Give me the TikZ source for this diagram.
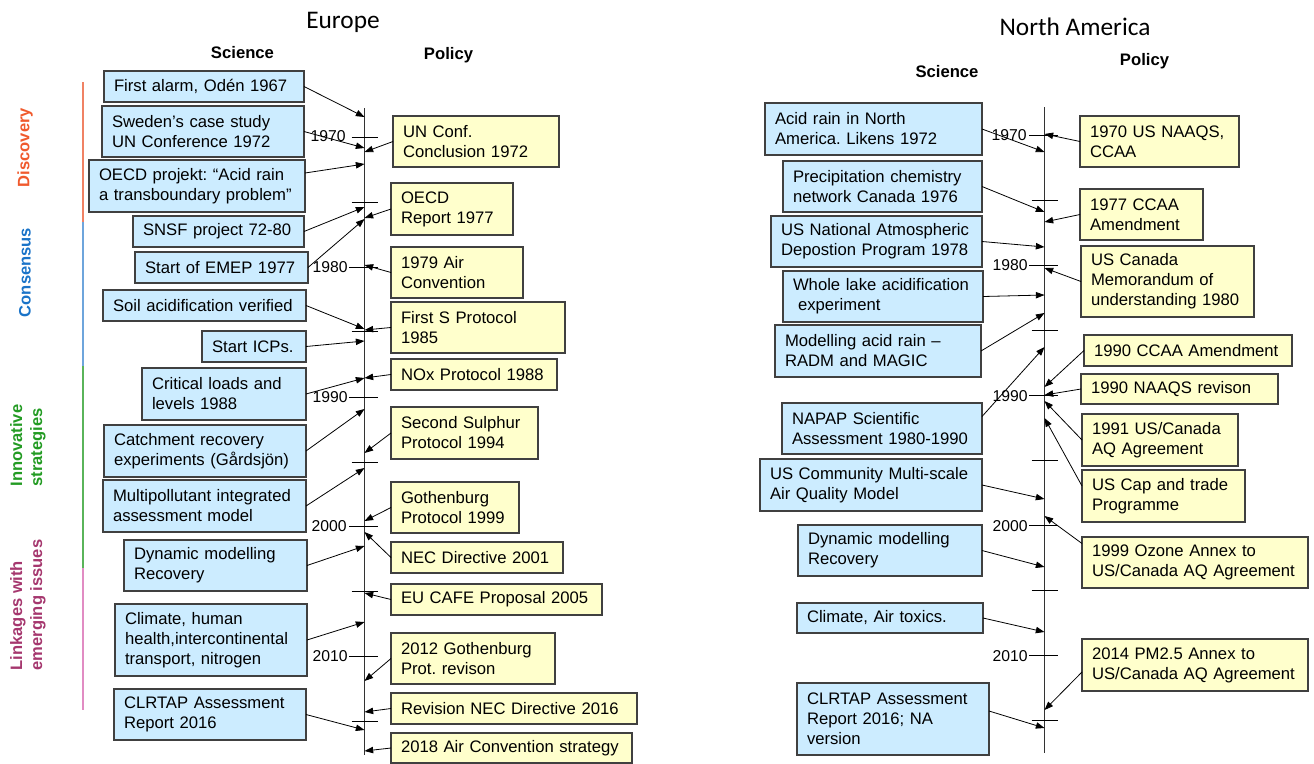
\documentclass[tikz,border=0pt]{standalone}
\usepackage{fontspec}
\setmainfont{Liberation Sans}
\newfontfamily\titlefont{Carlito}
\usepackage{xcolor}
\usetikzlibrary{arrows.meta,calc}

\newdimen\px \px=0.75pt

\definecolor{sciblue}{RGB}{204,236,255}
\definecolor{polyellow}{RGB}{255,255,204}
\definecolor{boxline}{RGB}{64,64,64}
\definecolor{discovery}{RGB}{240,90,45}
\definecolor{discoveryline}{RGB}{240,130,100}
\definecolor{consensus}{RGB}{25,115,200}
\definecolor{consensusline}{RGB}{110,165,220}
\definecolor{innovative}{RGB}{35,155,35}
\definecolor{innovativeline}{RGB}{90,180,90}
\definecolor{linkages}{RGB}{165,55,110}
\definecolor{linkagesline}{RGB}{225,140,195}

\tikzset{
  sci/.style={draw=boxline, fill=sciblue, line width=0.9pt, anchor=north west,
    align=left, inner xsep=10\px, inner ysep=1pt, outer sep=0pt,
    font=\fontsize{12.5}{15}\selectfont},
  pol/.style={sci, fill=polyellow},
  link/.style={line width=0.6pt, -{Triangle[length=6.5pt,width=4.8pt]}},
  yeartick/.style={line width=0.6pt},
  year/.style={anchor=east, inner sep=0pt, font=\fontsize{11.8}{14}\selectfont},
  colhead/.style={anchor=base, font=\bfseries\fontsize{12.5}{14}\selectfont},
  phase/.style={rotate=90, align=left, inner sep=0pt, font=\bfseries\fontsize{12.4}{15}\selectfont},
}

\begin{document}
\frenchspacing
\begin{tikzpicture}[x=0.75pt,y=0.75pt,yscale=-1,xscale=1]
\useasboundingbox (0,0) rectangle (1314,764);

% Titles and column heads
\node[anchor=base, font=\titlefont\fontsize{19}{22}\selectfont] (eutitle) at (343,28) {Europe};
\node[anchor=base, font=\titlefont\fontsize{19}{22}\selectfont] (natitle) at (1075,35) {North America};
\node[colhead] (euscience) at (242.5,58) {Science};
\node[colhead] (eupolicy) at (448.5,59) {Policy};
\node[colhead] (nascience) at (947,77) {Science};
\node[colhead] (napolicy) at (1144.5,65) {Policy};

% Phases
\draw[discoveryline, line width=0.8pt] (83,82) -- (83,222);
\draw[consensusline, line width=0.8pt] (83,222) -- (83,366);
\draw[innovativeline, line width=0.8pt] (83,366) -- (83,568);
\draw[linkagesline, line width=0.8pt] (83,568) -- (83,710);
\node[phase, text=discovery] (discovery) at (25,147.5) {Discovery};
\node[phase, text=consensus] (consensus) at (25,272.5) {Consensus};
\node[phase, text=innovative] (innovative) at (28,445.5) {Innovative\\strategies};
\node[phase, text=linkages] (linkages) at (28,605) {Linkages with\\emerging issues};

%Time axis: Europe
\coordinate (eu) at (364.5,108);
\coordinate (eubottom) at (364.5,755);
\draw[black!80, line width=0.8pt] (eu) -- (eubottom);
\draw[yeartick] (351.5,137) -- (377.5,137);
\draw[yeartick] (351.5,202) -- (377.5,202);
\draw[yeartick] (349,267) -- (377.5,267);
\draw[yeartick] (351.5,331) -- (377.5,331);
\draw[yeartick] (349,397) -- (377.5,397);
\draw[yeartick] (351.5,462) -- (377.5,462);
\draw[yeartick] (349,526) -- (377.5,526);
\draw[yeartick] (351.5,591) -- (377.5,591);
\draw[yeartick] (349,656) -- (377.5,656);
\draw[yeartick] (351.5,721) -- (377.5,721);
\node[year] (eu1970) at (346,136) {1970};
\node[year] (eu1980) at (348,267) {1980};
\node[year] (eu1990) at (348,397) {1990};
\node[year] (eu2000) at (347,526) {2000};
\node[year] (eu2010) at (348,656) {2010};

%Time axis: North America
\coordinate (na) at (1044.5,107);
\coordinate (nabottom) at (1044.5,753);
\draw[black!80, line width=0.8pt] (na) -- (nabottom);
\draw[yeartick] (1029,135) -- (1057.5,135);
\draw[yeartick] (1031.5,200) -- (1057.5,200);
\draw[yeartick] (1029,265) -- (1057.5,265);
\draw[yeartick] (1031.5,330) -- (1057.5,330);
\draw[yeartick] (1029,395) -- (1057.5,395);
\draw[yeartick] (1031.5,460) -- (1057.5,460);
\draw[yeartick] (1029,525) -- (1057.5,525);
\draw[yeartick] (1031.5,590) -- (1057.5,590);
\draw[yeartick] (1029,655) -- (1057.5,655);
\draw[yeartick] (1031.5,720) -- (1057.5,720);
\node[year] (na1970) at (1027,135) {1970};
\node[year] (na1980) at (1028,265) {1980};
\node[year] (na1990) at (1028,396) {1990};
\node[year] (na2000) at (1028,526) {2000};
\node[year] (na2010) at (1028,656) {2010};

% Europe: science
\node[sci, text width=180\px, minimum height=31\px] (alarm) at (104,71) {First alarm, Odén 1967};
\node[sci, text width=182\px, minimum height=51\px] (sweden) at (102,106) {Sweden’s case study\\UN Conference 1972};
\node[sci, text width=196\px, minimum height=52\px] (oecdp) at (89,160) {OECD projekt: “Acid rain\\a transboundary problem”};
\node[sci, text width=151\px, minimum height=31\px] (snsf) at (133,216) {SNSF project 72-80};
\node[sci, text width=153\px, minimum height=31\px] (emep) at (135,252) {Start of EMEP 1977};
\node[sci, text width=183\px, minimum height=31\px] (soil) at (103,290) {Soil acidification verified};
\node[sci, text width=84\px, minimum height=31\px] (icps) at (202,331) {Start ICPs.};
\node[sci, text width=144\px, minimum height=52\px] (critical) at (142,368) {Critical loads and\\levels 1988};
\node[sci, text width=182\px, minimum height=52\px] (catchment) at (104,425) {Catchment recovery\\experiments (Gårdsjön)};
\node[sci, text width=183\px, minimum height=52\px] (multi) at (103,480) {Multipollutant integrated\\assessment model};
\node[sci, text width=163\px, minimum height=51\px] (dynamic) at (124,540) {Dynamic modelling\\Recovery};
\node[sci, text width=172\px, minimum height=72\px] (climate) at (115,604) {Climate, human\\health,intercontinental\\transport, nitrogen};
\node[sci, text width=172\px, minimum height=51\px] (clrtap) at (114,689) {CLRTAP Assessment\\Report 2016};

% Europe: policy
\node[pol, text width=146\px, minimum height=51\px] (unconf) at (393,116) {UN Conf.\\Conclusion 1972};
\node[pol, text width=102\px, minimum height=52\px] (oecdrep) at (391,183) {OECD\\Report 1977};
\node[pol, text width=112\px, minimum height=51\px] (airconv) at (391,247) {1979 Air\\Convention};
\node[pol, text width=154\px, minimum height=51\px] (firsts) at (391,302) {First S Protocol\\1985};
\node[pol, text width=146\px, minimum height=31\px] (nox) at (391,359) {NOx Protocol 1988};
\node[pol, text width=127\px, minimum height=52\px] (seconds) at (391,407) {Second Sulphur\\Protocol 1994};
\node[pol, text width=108\px, minimum height=51\px] (gothenburg) at (391,482) {Gothenburg\\Protocol 1999};
\node[pol, text width=152\px, minimum height=31\px] (nec) at (391,542) {NEC Directive 2001};
\node[pol, text width=191\px, minimum height=31\px] (cafe) at (391,584) {EU CAFE Proposal 2005};
\node[pol, text width=144\px, minimum height=51\px] (gothrev) at (391,633) {2012 Gothenburg\\Prot. revison};
\node[pol, text width=226\px, minimum height=31\px] (necrev) at (391,693) {Revision NEC Directive 2016};
\node[pol, text width=221\px, minimum height=30\px] (strategy) at (391,733) {2018 Air Convention strategy};

% North America: science
\node[sci, text width=197\px, minimum height=52\px] (likens) at (765,103) {Acid rain in North\\America. Likens 1972};
\node[sci, text width=179\px, minimum height=51\px] (precip) at (783,161) {Precipitation chemistry\\network Canada 1976};
\node[sci, text width=191\px, minimum height=51\px] (nadp) at (771,216) {US National Atmospheric\\Depostion Program 1978};
\node[sci, text width=180\px, minimum height=51\px] (lake) at (783,271) {Whole lake acidification\\\hspace*{5\px}experiment};
\node[sci, text width=186\px, minimum height=52\px] (radm) at (775,325) {Modelling acid rain –\\RADM and MAGIC};
\node[sci, text width=180\px, minimum height=51\px] (napap) at (782,403) {NAPAP Scientific\\Assessment 1980-1990};
\node[sci, text width=202\px, minimum height=52\px] (cmaq) at (760,459) {US Community Multi-scale\\Air Quality Model};
\node[sci, text width=164\px, minimum height=51\px] (nadynamic) at (798,525) {Dynamic modelling\\Recovery};
\node[sci, text width=166\px, minimum height=30\px] (toxics) at (797,603) {Climate, Air toxics.};
\node[sci, text width=172\px, minimum height=72\px] (naclrtap) at (797,683) {CLRTAP Assessment\\Report 2016; NA\\version};

% North America: policy
\node[pol, text width=139\px, minimum height=51\px] (naaqs) at (1080,116) {1970 US NAAQS,\\CCAA};
\node[pol, text width=103\px, minimum height=51\px] (ccaa77) at (1080,189) {1977 CCAA\\Amendment};
\node[pol, text width=153\px, minimum height=71\px] (memo) at (1081,246) {US Canada\\Memorandum of\\understanding 1980};
\node[pol, text width=188\px, minimum height=31\px] (ccaa90) at (1084,335) {1990 CCAA Amendment};
\node[pol, text width=177\px, minimum height=30\px] (naaqs90) at (1081,374) {1990 NAAQS revison};
\node[pol, text width=136\px, minimum height=52\px] (aq91) at (1082,414) {1991 US/Canada\\AQ Agreement};
\node[pol, text width=143\px, minimum height=52\px] (captrade) at (1082,470) {US Cap and trade\\Programme};
\node[pol, text width=206\px, minimum height=51\px] (ozone) at (1082,537) {1999 Ozone Annex to\\US/Canada AQ Agreement};
\node[pol, text width=206\px, minimum height=52\px] (pm25) at (1082,639) {2014 PM2.5 Annex to\\US/Canada AQ Agreement};

%Arrows: Europe
\draw[link] (alarm.east) -- (eu |- 0,117);
\draw[link] (sweden.east) -- (eu |- 0,148);
\draw[link] ($(oecdp.east)+(0,-13)$) -- (eu |- 0,164);
\draw[link] (snsf.east) -- (eu |- 0,207);
\draw[link] (emep.east) -- (eu |- 0,219);
\draw[link] (soil.east) -- (eu |- 0,329);
\draw[link] (icps.east) -- (eu |- 0,341);
\draw[link] (critical.east) -- (eu |- 0,378);
\draw[link] (catchment.east) -- (eu |- 0,409);
\draw[link] (multi.east) -- (eu |- 0,468);
\draw[link] (dynamic.east) -- (eu |- 0,546);
\draw[link] (climate.east) -- (eu |- 0,622);
\draw[link] (clrtap.east) -- (eu |- 0,730);
\draw[link] (unconf.west) -- (eu |- 0,152);
\draw[link] (oecdrep.west) -- (eu |- 0,218);
\draw[link] (airconv.west) -- (eu |- 0,265);
\draw[link] (firsts.west) -- (eu |- 0,330);
\draw[link] (nox.west) -- (eu |- 0,378);
\draw[link] (seconds.west) -- (eu |- 0,453);
\draw[link] (gothenburg.west) -- (eu |- 0,521);
\draw[link] (nec.west) -- (eu |- 0,532);
\draw[link] (cafe.west) -- (eu |- 0,593);
\draw[link] (gothrev.west) -- (eu |- 0,681);
\draw[link] (necrev.west) -- (eu |- 0,712);
\draw[link] (strategy.west) -- (eu |- 0,751);

%Arrows: North America
\draw[link] (likens.east) -- (na |- 0,152);
\draw[link] (precip.east) -- (na |- 0,212);
\draw[link] (nadp.east) -- (na |- 0,247);
\draw[link] (lake.east) -- (na |- 0,295);
\draw[link] (radm.east) -- (na |- 0,313);
\draw[link] ($(napap.east)+(0,-12)$) -- (na |- 0,347);
\draw[link] (cmaq.east) -- (na |- 0,499);
\draw[link] (nadynamic.east) -- (na |- 0,567);
\draw[link] (toxics.east) -- (na |- 0,632);
\draw[link] ($(naclrtap.east)+(0,-8)$) -- (na |- 0,728);
\draw[link] (naaqs.west) -- (na |- 0,134);
\draw[link] (ccaa77.west) -- (na |- 0,222);
\draw[link] (memo.west) -- (na |- 0,268);
\draw[link] (ccaa90.west) -- (na |- 0,387);
\draw[link] (naaqs90.west) -- (na |- 0,395);
\draw[link] (aq91.west) -- (na |- 0,401);
\draw[link] ($(captrade.west)+(0,-10)$) -- (na |- 0,418);
\draw[link] ($(ozone.west)+(0,-19)$) -- (na |- 0,516);
\draw[link] ($(pm25.west)+(0,7)$) -- (na |- 0,710);
\end{tikzpicture}
\end{document}
